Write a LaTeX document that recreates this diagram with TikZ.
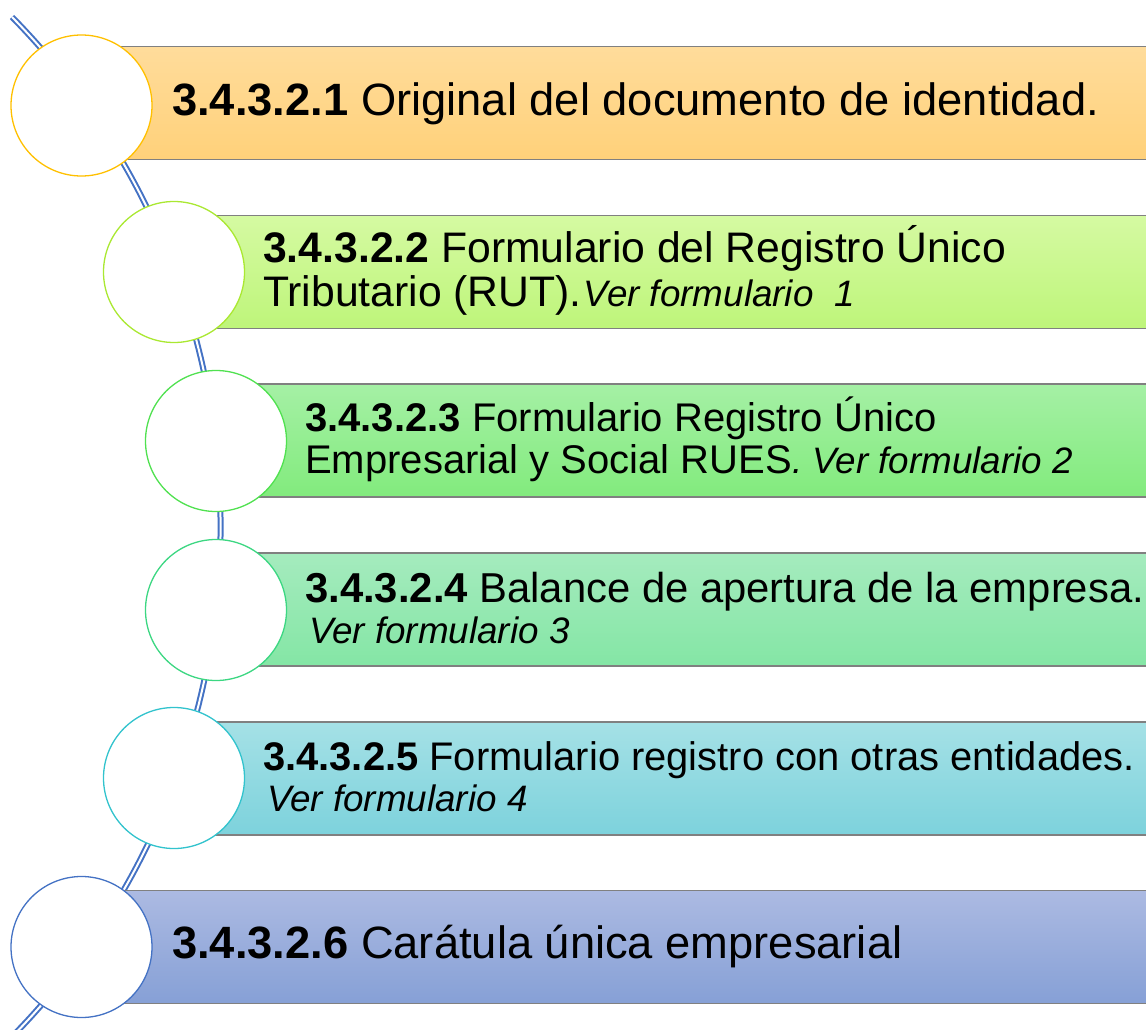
\documentclass[tikz,border=0pt]{standalone}
\usepackage{fontspec}
\setmainfont{Liberation Sans}
\definecolor{barline}{RGB}{128,128,128}
\definecolor{spineblue}{RGB}{68,114,196}
\definecolor{ca}{RGB}{255,192,0}
\definecolor{cb}{RGB}{170,232,50}
\definecolor{cc}{RGB}{80,225,80}
\definecolor{cd}{RGB}{60,215,130}
\definecolor{ce}{RGB}{50,195,205}
\definecolor{cf}{RGB}{68,114,196}
\definecolor{at}{RGB}{255,220,155}\definecolor{ab}{RGB}{255,209,122}
\definecolor{bt}{RGB}{213,250,162}\definecolor{bb}{RGB}{190,245,122}
\definecolor{ct}{RGB}{165,240,165}\definecolor{cbt}{RGB}{130,235,125}
\definecolor{dt}{RGB}{165,235,190}\definecolor{db}{RGB}{132,230,165}
\definecolor{et}{RGB}{165,225,230}\definecolor{eb}{RGB}{125,210,220}
\definecolor{ft}{RGB}{172,186,226}\definecolor{fb}{RGB}{134,160,214}
\newcommand{\bigtxt}{\fontsize{45.3}{50}\selectfont}
\newcommand{\regsz}[2]{\fontsize{#1}{#2}\selectfont}
\newcommand{\itsmall}[1]{\fontsize{36.8}{#1}\selectfont\itshape}
\begin{document}
\begin{tikzpicture}[x=1pt,y=-1pt,
  bar/.style={draw=barline, line width=1.3pt, minimum height=113pt, minimum width=1100pt, anchor=west, inner sep=0pt},
  circ/.style={circle, fill=white, line width=1.3pt, minimum size=141pt, inner sep=0pt},
  txt/.style={anchor=west, inner sep=0pt, align=left, text=black},
  spine/.style={draw=spineblue, double=white, line width=2pt, double distance=2pt}]
\useasboundingbox (0,0) rectangle (1146,1030);
\clip (0,0) rectangle (1146,1030);
% spine
\draw[spine] (12,17) arc[start angle=-44.5, end angle=44.5, radius=727.5];
% bars
\node[bar, top color=at, bottom color=ab] (b1) at (81.5,103) {};
\node[bar, top color=bt, bottom color=bb] (b2) at (174,272) {};
\node[bar, top color=ct, bottom color=cbt] (b3) at (216,440.5) {};
\node[bar, top color=dt, bottom color=db] (b4) at (216,609.5) {};
\node[bar, top color=et, bottom color=eb] (b5) at (174,778.5) {};
\node[bar, top color=ft, bottom color=fb] (b6) at (81.5,947) {};
% circles
\node[circ, draw=ca] (c1) at (81.5,105.5) {};
\node[circ, draw=cb] (c2) at (174,272) {};
\node[circ, draw=cc] (c3) at (216,441) {};
\node[circ, draw=cd] (c4) at (216,610) {};
\node[circ, draw=ce] (c5) at (174,778) {};
\node[circ, draw=cf] (c6) at (81.5,947) {};
% texts
\node[txt, font=\bigtxt] (t1) at (172,104) {\textbf{3.4.3.2.1} Original del documento de identidad.};
\node[txt, font=\regsz{42.7}{44}] (t2) at (263,270) {\textbf{3.4.3.2.2} Formulario del Registro Único\\Tributario (RUT).{\itsmall{44}\hspace{2pt}Ver formulario\ \ 1}};
\node[txt, font=\regsz{40}{42}] (t3) at (305,439) {\textbf{3.4.3.2.3} Formulario Registro Único\\Empresarial y Social RUES{\itsmall{42}. Ver formulario 2}};
\node[txt, font=\regsz{41.8}{41}] (t4) at (305,608) {\textbf{3.4.3.2.4} Balance de apertura de la empresa.\\{\itsmall{41}\hspace{4pt}Ver formulario 3}};
\node[txt, font=\regsz{39.9}{41}] (t5) at (263,777) {\textbf{3.4.3.2.5} Formulario registro con otras entidades.\\{\itsmall{41}\hspace{4pt}Ver formulario 4}};
\node[txt, font=\bigtxt] (t6) at (172,947) {\textbf{3.4.3.2.6} Carátula única empresarial};
\end{tikzpicture}
\end{document}
